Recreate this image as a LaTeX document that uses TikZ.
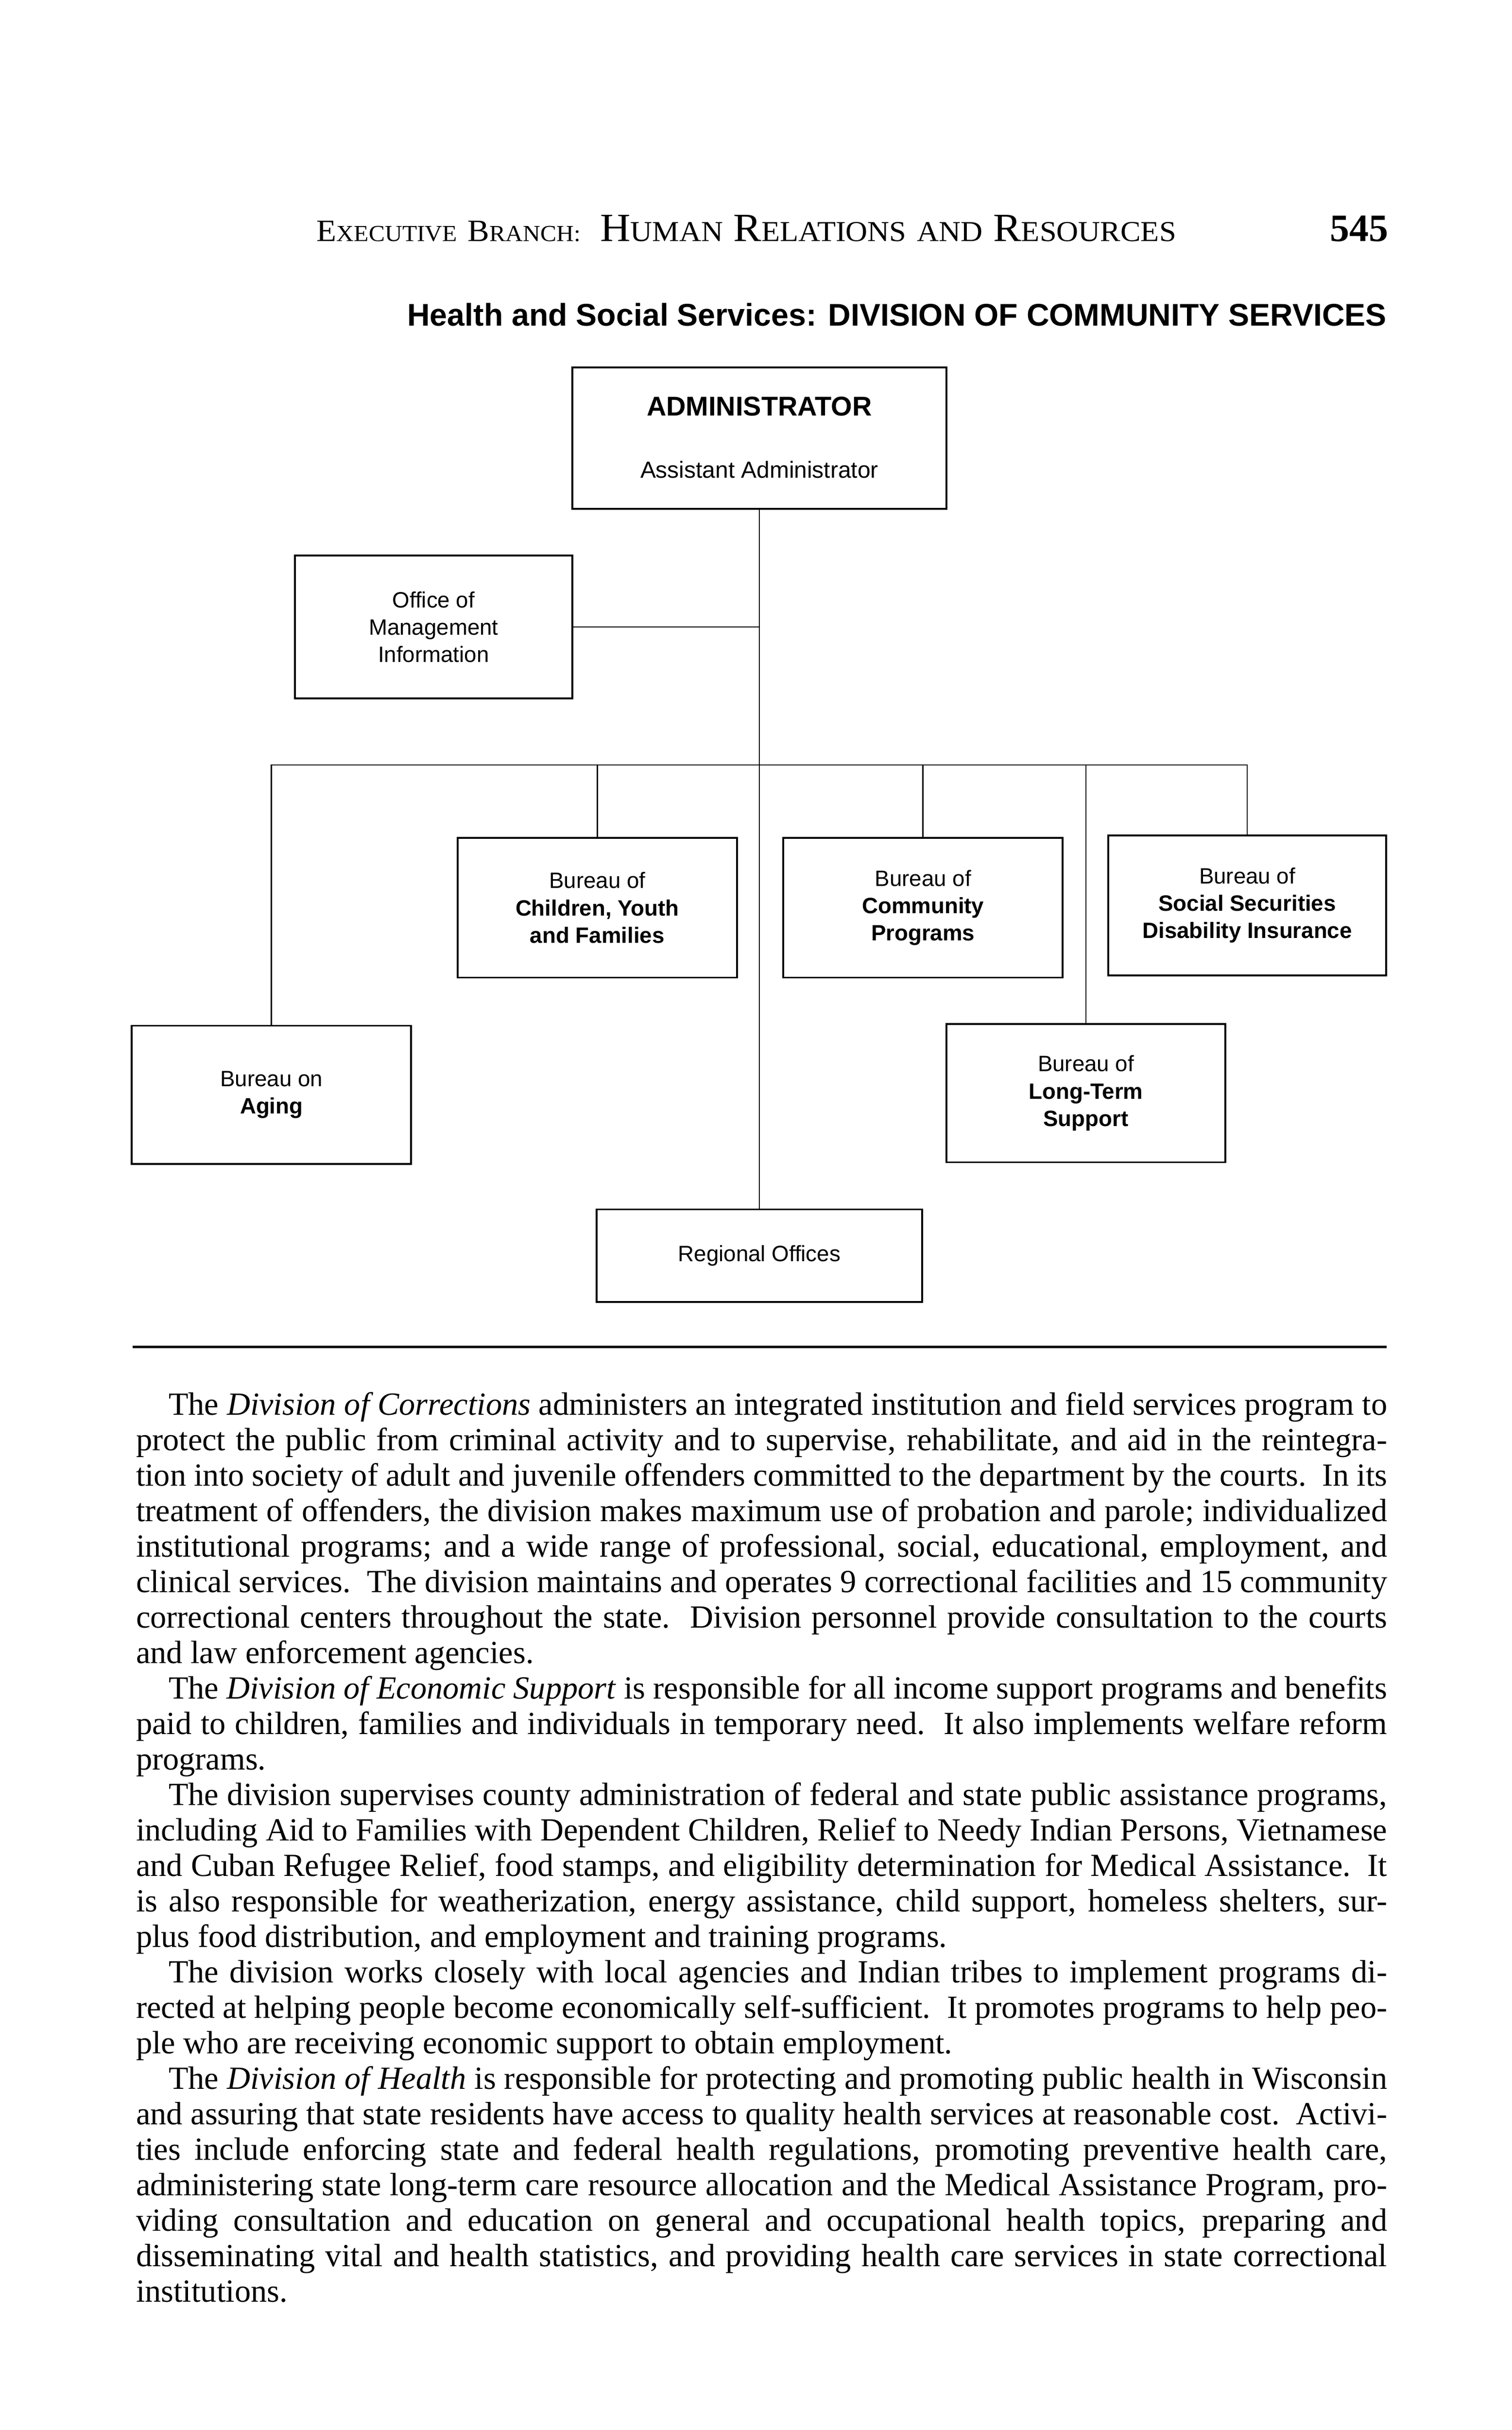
\documentclass[tikz,border=0pt]{standalone}
\usepackage{graphicx}
\usepackage{fontspec}
\setmainfont{Liberation Serif}
\setsansfont{Liberation Sans}
\usetikzlibrary{calc}
\newcommand{\HdA}[1]{{\fontsize{20}{24}\selectfont #1}}
\newcommand{\HdB}[1]{{\fontsize{14.8}{18}\selectfont #1}}
\newcommand{\HdC}[1]{{\fontsize{25.8}{30}\selectfont #1}}
\newcommand{\HdD}[1]{{\fontsize{18.6}{22}\selectfont #1}}
\newcommand{\HdS}{\hspace{6.5pt}}
\newcommand{\jl}[2]{\makebox[#1][s]{#2}}
\tikzset{
  box/.style={draw, line width=1.2pt, inner sep=0pt, align=center,
    font=\sffamily\fontsize{14.3}{17.6}\selectfont},
  conn/.style={line width=0.8pt},
  bodyl/.style={anchor=base west, inner sep=0pt, font=\fontsize{20.8}{22.86}\selectfont},
  plain/.style={inner sep=0pt}
}
\begin{document}
\begin{tikzpicture}[x=1pt,y=-1pt]
\useasboundingbox[fill=white] (0,0) rectangle (974.4,1566);

% header
\node[plain, anchor=base west] (hdr) at (204,155.4)
  {\scalebox{1.05}[1.0]{\HdA{E}\HdB{XECUTIVE}\HdS\HdA{B}\HdB{RANCH:}\hspace{12pt}\HdC{H}\HdD{UMAN}\HdS\HdC{R}\HdD{ELATIONS}\HdS\HdD{AND}\HdS\HdC{R}\HdD{ESOURCES}}};
\node[plain, anchor=base east, font=\fontsize{25}{30}\selectfont\bfseries] (pg) at (895,155.4) {545};
\node[plain, anchor=base east, font=\sffamily\bfseries\fontsize{20.2}{24}\selectfont] (sub) at (894,210)
  {Health and Social Services: DIVISION OF COMMUNITY SERVICES};

% chart boxes
\node[box, minimum width=241pt, minimum height=91.3pt] (admin) at (489.5,282.35) {};
\node[plain, anchor=base, font=\sffamily\bfseries\fontsize{17.5}{21}\selectfont] (adminT) at (489.5,268) {ADMINISTRATOR};
\node[plain, anchor=base, font=\sffamily\fontsize{15}{18}\selectfont] (adminS) at (489.5,308) {Assistant Administrator};

\node[box, minimum width=179pt, minimum height=92pt] (office) at (279.5,404) {Office of\\Management\\Information};
\node[box, minimum width=180pt, minimum height=90pt] (children) at (385,585) {Bureau of\\\textbf{Children, Youth}\\\textbf{and Families}};
\node[box, minimum width=180pt, minimum height=90pt] (community) at (595,585) {Bureau of\\\textbf{Community}\\\textbf{Programs}};
\node[box, minimum width=179pt, minimum height=90.2pt] (socsec) at (804,583.4) {Bureau of\\\textbf{Social Securities}\\\textbf{Disability Insurance}};
\node[box, minimum width=180pt, minimum height=89pt] (aging) at (175,705.5) {Bureau on\\\textbf{Aging}};
\node[box, minimum width=180pt, minimum height=89pt] (longterm) at (700,704.5) {Bureau of\\\textbf{Long-Term}\\\textbf{Support}};
\node[box, minimum width=210pt, minimum height=59.6pt] (regional) at (489.5,809.2) {Regional Offices};

% connectors
\coordinate (barL) at (175,493);
\draw[conn] (admin.south) -- (regional.north);
\draw[conn] (office.east) -- (office.east -| admin.south);
\draw[conn] (aging.north) -- (aging.north |- barL) -- (socsec.north |- barL) -- (socsec.north);
\draw[conn] (children.north) -- (children.north |- barL);
\draw[conn] (community.north) -- (community.north |- barL);
\draw[conn] (longterm.north) -- (longterm.north |- barL);

% rule
\coordinate (ruleL) at (85.5,868);
\coordinate (ruleR) at (894,868);
\draw[line width=1.5pt] (ruleL) -- (ruleR);

% body text
\node[bodyl] (l1) at (108.5,912) {\jl{785.5pt}{The \textit{Division of Corrections} administers an integrated institution and field services program to}};
\node[bodyl] (l2) at (87.5,934.86) {\jl{806.5pt}{protect the public from criminal activity and to supervise, rehabilitate, and aid in the reintegra-}};
\node[bodyl] (l3) at (87.5,957.72) {\jl{806.5pt}{tion into society of adult and juvenile offenders committed to the department by the courts.\ \ In its}};
\node[bodyl] (l4) at (87.5,980.58) {\jl{806.5pt}{treatment of offenders, the division makes maximum use of probation and parole; individualized}};
\node[bodyl] (l5) at (87.5,1003.44) {\jl{806.5pt}{institutional programs; and a wide range of professional, social, educational, employment, and}};
\node[bodyl] (l6) at (87.5,1026.30) {\jl{806.5pt}{clinical services.\ \ The division maintains and operates 9 correctional facilities and 15 community}};
\node[bodyl] (l7) at (87.5,1049.16) {\jl{806.5pt}{correctional centers throughout the state.\ \ Division personnel provide consultation to the courts}};
\node[bodyl] (l8) at (87.5,1072.02) {and law enforcement agencies.};
\node[bodyl] (l9) at (108.5,1094.88) {\jl{785.5pt}{The \textit{Division of Economic Support} is responsible for all income support programs and benefits}};
\node[bodyl] (l10) at (87.5,1117.74) {\jl{806.5pt}{paid to children, families and individuals in temporary need.\ \ It also implements welfare reform}};
\node[bodyl] (l11) at (87.5,1140.60) {programs.};
\node[bodyl] (l12) at (108.5,1163.46) {\jl{785.5pt}{The division supervises county administration of federal and state public assistance programs,}};
\node[bodyl] (l13) at (87.5,1186.32) {\jl{806.5pt}{including Aid to Families with Dependent Children, Relief to Needy Indian Persons, Vietnamese}};
\node[bodyl] (l14) at (87.5,1209.18) {\jl{806.5pt}{and Cuban Refugee Relief, food stamps, and eligibility determination for Medical Assistance.\ \ It}};
\node[bodyl] (l15) at (87.5,1232.04) {\jl{806.5pt}{is also responsible for weatherization, energy assistance, child support, homeless shelters, sur-}};
\node[bodyl] (l16) at (87.5,1254.90) {plus food distribution, and employment and training programs.};
\node[bodyl] (l17) at (108.5,1277.76) {\jl{785.5pt}{The division works closely with local agencies and Indian tribes to implement programs di-}};
\node[bodyl] (l18) at (87.5,1300.62) {\jl{806.5pt}{rected at helping people become economically self-sufficient.\ \ It promotes programs to help peo-}};
\node[bodyl] (l19) at (87.5,1323.48) {ple who are receiving economic support to obtain employment.};
\node[bodyl] (l20) at (108.5,1346.34) {\jl{785.5pt}{The \textit{Division of Health} is responsible for protecting and promoting public health in Wisconsin}};
\node[bodyl] (l21) at (87.5,1369.20) {\jl{806.5pt}{and assuring that state residents have access to quality health services at reasonable cost.\ \ Activi-}};
\node[bodyl] (l22) at (87.5,1392.06) {\jl{806.5pt}{ties include enforcing state and federal health regulations, promoting preventive health care,}};
\node[bodyl] (l23) at (87.5,1414.92) {\jl{806.5pt}{administering state long-term care resource allocation and the Medical Assistance Program, pro-}};
\node[bodyl] (l24) at (87.5,1437.78) {\jl{806.5pt}{viding consultation and education on general and occupational health topics, preparing and}};
\node[bodyl] (l25) at (87.5,1460.64) {\jl{806.5pt}{disseminating vital and health statistics, and providing health care services in state correctional}};
\node[bodyl] (l26) at (87.5,1483.50) {institutions.};
\end{tikzpicture}
\end{document}
